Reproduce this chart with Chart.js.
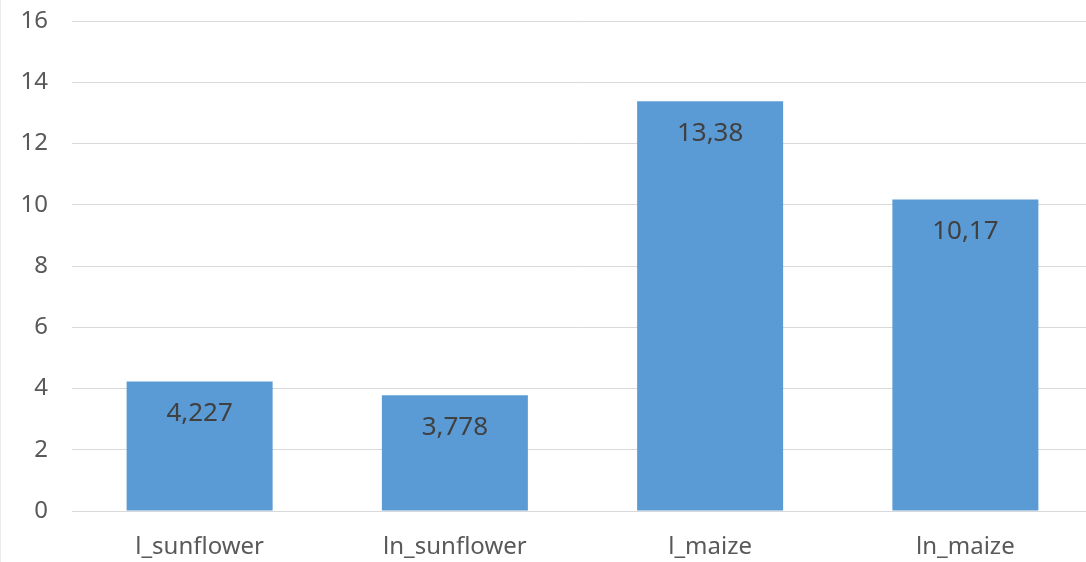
<!DOCTYPE html>
<html>
<head>
<meta charset="utf-8">
<script src="https://cdn.jsdelivr.net/npm/chart.js@4"></script>
<style>
html,body{margin:0;padding:0;background:#fff;overflow:hidden;}
#wrap{position:relative;width:1093px;height:562px;border-left:1px solid #ececec;box-sizing:border-box;}
</style>
</head>
<body>
<div id="wrap"><canvas id="myChart"></canvas></div>
<script>
var categories = ["l_sunflower", "ln_sunflower", "l_maize", "ln_maize"];
var values = [4.227, 3.778, 13.38, 10.17];
var valueLabels = ["4,227", "3,778", "13,38", "10,17"];
var yTicks = [0, 2, 4, 6, 8, 10, 12, 14, 16];

// draws the value inside the top of each bar
var insideLabels = {
    id: 'insideLabels',
    afterDatasetsDraw: function(chart)
    {
        var ctx = chart.ctx;
        var meta = chart.getDatasetMeta(0);
        ctx.save();
        ctx.fillStyle = '#404040';
        ctx.font = '26px "Noto Sans"';
        ctx.textAlign = 'center';
        ctx.textBaseline = 'middle';
        meta.data.forEach(function(bar, i)
        {
            ctx.fillText(valueLabels[i], bar.x, bar.y + 32);
        });
        ctx.restore();
    }
};

var ctx = document.getElementById("myChart");
var myChart = new Chart(ctx, {
    type: 'bar',
    data: {
        labels: categories,
        datasets: [{
            data: values,
            backgroundColor: '#5b9bd5',
            borderWidth: 0,
            categoryPercentage: 1,
            barPercentage: 0.572
        }]
    },
    options: {
        responsive: true,
        maintainAspectRatio: false,
        animation: false,
        layout: { padding: { top: 21, right: 0, left: 0, bottom: 0 } },
        plugins: {
            legend: { display: false },
            tooltip: { enabled: false }
        },
        scales: {
            x: {
                grid: { display: false },
                border: { color: '#d9d9d9', width: 1 },
                ticks: { color: '#595959', font: { family: 'Noto Sans', size: 24 }, padding: 14 },
                afterFit: function(scale) { scale.height = 51; }
            },
            y: {
                min: yTicks[0],
                max: yTicks[yTicks.length - 1],
                afterBuildTicks: function(scale)
                {
                    scale.ticks = yTicks.map(function(v) { return { value: v }; });
                },
                grid: { color: '#d9d9d9', drawTicks: false },
                border: { display: false },
                ticks: { color: '#595959', font: { family: 'Noto Sans', size: 24 }, padding: 24 },
                afterFit: function(scale)
                {
                    scale.width = 71;
                    scale.paddingTop = 0;   // tick padding would push the plot down
                    scale.paddingBottom = 0;
                }
            }
        }
    },
    plugins: [insideLabels]
});
</script>
</body>
</html>
